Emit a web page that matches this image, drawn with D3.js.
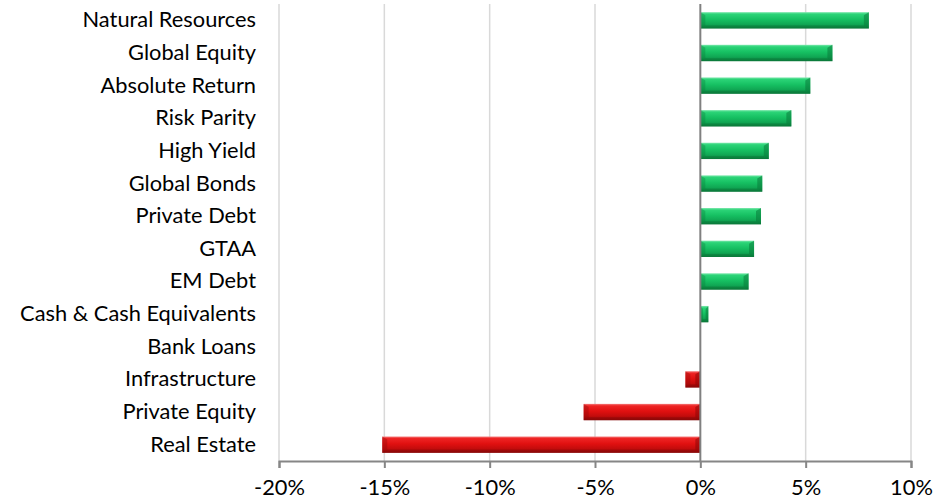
<!DOCTYPE html>
<html><head><meta charset="utf-8">
<script src="https://cdn.jsdelivr.net/npm/d3@7"></script>
<style>html,body{margin:0;padding:0;background:#fff;}svg{display:block;}</style>
</head><body>
<svg id="chart" width="952" height="501"></svg>
<script>
const categories = ["Natural Resources","Global Equity","Absolute Return","Risk Parity","High Yield","Global Bonds","Private Debt","GTAA","EM Debt","Cash & Cash Equivalents","Bank Loans","Infrastructure","Private Equity","Real Estate"];
const values = [8.0, 6.27, 5.22, 4.32, 3.25, 2.94, 2.88, 2.55, 2.29, 0.38, 0, -0.71, -5.54, -15.1];
const tickValues = [-20, -15, -10, -5, 0, 5, 10];
const tickLabels = ["-20%","-15%","-10%","-5%","0%","5%","10%"];

const W = 952, H = 501;
const margin = {top: 4, right: 41, bottom: 40, left: 279};
const svg = d3.select("#chart");
const FONT = "Lato, 'Open Sans', sans-serif";

const x = d3.scaleLinear().domain([-20, 10]).range([margin.left, W - margin.right]);
const y = d3.scaleBand().domain(categories).range([margin.top, H - margin.bottom]).paddingInner(0.5).paddingOuter(0.25);

// font size calibrated to label width
const probe = svg.append("text").attr("font-family", FONT).attr("font-size", 20).text("Cash & Cash Equivalents");
const fs = 20 * 236 / probe.node().getComputedTextLength();
probe.remove();

const defs = svg.append("defs");
function grad(id, stops) {
  const g = defs.append("linearGradient").attr("id", id).attr("x1", 0).attr("y1", 0).attr("x2", 0).attr("y2", 1);
  stops.forEach(s => g.append("stop").attr("offset", s[0]).attr("stop-color", s[1]));
}
grad("gGreen", [["0%","#7de8ad"],["12%","#2bd477"],["45%","#16c062"],["75%","#10a653"],["100%","#0a7638"]]);
grad("gRed", [["0%","#f47a7a"],["12%","#ee2424"],["45%","#e01010"],["75%","#c20c0c"],["100%","#860707"]]);

// gridlines
svg.append("g").selectAll("line").data(tickValues.filter(v => v !== 0)).join("line")
  .attr("x1", d => x(d)).attr("x2", d => x(d))
  .attr("y1", margin.top).attr("y2", H - margin.bottom)
  .attr("stroke", "#d9d9d9").attr("stroke-width", 1.5);

// bars
const bars = svg.append("g");
categories.forEach((c, i) => {
  const v = values[i];
  if (v === 0) return;
  const x0 = x(Math.min(0, v)), x1 = x(Math.max(0, v));
  const yy = y(c), h = y.bandwidth();
  const pos = v > 0;
  const g = bars.append("g");
  g.append("rect").attr("x", x0).attr("y", yy).attr("width", x1 - x0).attr("height", h)
    .attr("fill", pos ? "url(#gGreen)" : "url(#gRed)");
  const b = Math.min(5, (x1 - x0) / 3);
  const dark = pos ? "#0a7a3a" : "#8c0808";
  g.append("polygon").attr("points", [[x1 - b, yy + 3], [x1, yy], [x1, yy + h], [x1 - b, yy + h - 3]].join(" "))
    .attr("fill", dark).attr("opacity", 0.55);
  g.append("polygon").attr("points", [[x0 + b, yy + 3], [x0, yy], [x0, yy + h], [x0 + b, yy + h - 3]].join(" "))
    .attr("fill", dark).attr("opacity", 0.35);
  g.append("polygon").attr("points", [[x0 + b, yy + h - 3], [x1 - b, yy + h - 3], [x1, yy + h], [x0, yy + h]].join(" "))
    .attr("fill", dark).attr("opacity", 0.45);
});

// zero line
svg.append("line").attr("x1", x(0)).attr("x2", x(0)).attr("y1", margin.top).attr("y2", H - margin.bottom)
  .attr("stroke", "#808080").attr("stroke-width", 2);

// x axis
const xAxis = d3.axisBottom(x).tickValues(tickValues).tickFormat((d, i) => tickLabels[i]).tickSizeOuter(0).tickSize(7).tickPadding(12);
const ax = svg.append("g").attr("transform", `translate(0,${H - margin.bottom})`).call(xAxis);
ax.select(".domain").attr("stroke", "#868686").attr("stroke-width", 2);
ax.selectAll(".tick line").attr("stroke", "#868686").attr("stroke-width", 2);
ax.selectAll(".tick text").attr("font-family", FONT).attr("font-size", fs).attr("fill", "#000").attr("dy", "0.71em");

// category labels
const yAxis = d3.axisLeft(y).tickSize(0).tickPadding(23);
const ay = svg.append("g").attr("transform", `translate(${margin.left},0)`).call(yAxis);
ay.select(".domain").remove();
ay.selectAll(".tick text").attr("font-family", FONT).attr("font-size", fs).attr("fill", "#000");
</script>
</body></html>
